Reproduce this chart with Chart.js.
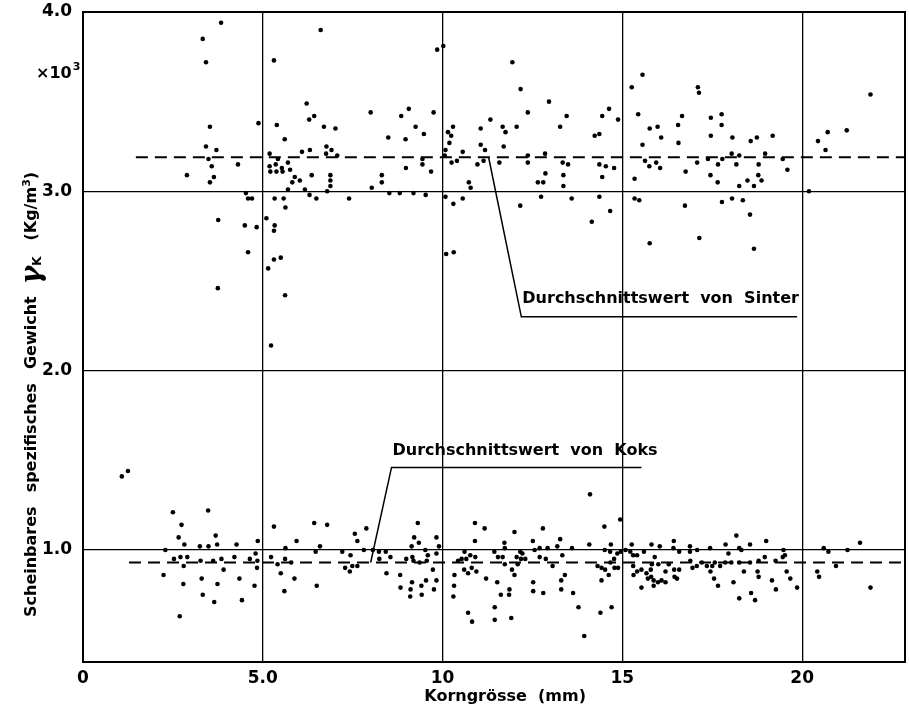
<!DOCTYPE html>
<html>
<head>
<meta charset="utf-8">
<script src="https://cdn.jsdelivr.net/npm/chart.js@4"></script>
<style>
  html, body { margin: 0; padding: 0; background: #fff; }
  canvas { display: block; }
</style>
</head>
<body>
<canvas id="chart" width="909" height="714"></canvas>
<script>
/* --------------- Data ----------------------------------------- */
const sinterX = [
  3.84,3.33,3.42,3.53,3.42,3.71,3.49,3.58,4.31,2.89,3.64,3.53,4.88,6.61,5.31,5.39,5.61,6.22,6.29,6.43,
  6.70,7.02,6.77,6.91,6.76,7.07,6.31,6.09,5.19,5.42,5.19,5.36,5.53,5.70,5.21,5.38,5.55,5.76,5.89,6.03,
  5.82,6.36,6.88,6.88,6.88,5.70,6.17,6.79,4.53,4.70,5.33,5.58,6.49,7.40,4.59,3.76,4.50,4.83,4.59,3.75,
  5.10,5.33,5.31,5.31,5.50,5.15,5.62,5.23,5.63,6.30,
  9.85,10.02,11.94,12.17,12.96,15.26,8.00,8.85,9.06,9.75,9.25,8.49,8.97,9.48,10.29,10.15,10.24,10.19,10.08,10.06,
  10.56,11.06,11.33,11.67,11.75,11.06,11.18,11.70,12.06,12.37,13.45,13.27,14.44,14.63,14.23,14.36,14.88,15.44,12.37,12.85,
  10.25,10.40,10.97,11.14,11.58,12.37,13.34,13.49,14.36,14.54,14.77,9.44,9.44,8.98,9.68,8.31,8.31,8.03,8.52,8.81,
  9.19,9.53,10.73,10.78,12.86,12.65,12.80,13.36,13.36,14.44,15.34,10.08,10.56,12.74,13.59,14.36,15.34,
  10.30,10.10,10.31,12.16,14.66,14.15,15.47,15.76,16.74,17.14,17.77,18.05,18.35,18.55,18.66,20.19,16.76,17.08,17.45,17.66,
  17.65,18.25,18.48,18.66,18.78,18.87,18.17,18.79,19.59,15.75,16.05,15.94,15.63,15.56,16.56,18.04,18.25,18.57,18.97,19.46,
  15.56,17.10,17.13,16.66,17.46,17.76,15.76,15.98,16.55,17.76,16.08,17.46,18.06,18.74,19.18,17.38,17.78,21.90,21.24,20.71,
  20.44,20.65
];
const sinterY = [
  3.94,3.85,3.72,3.36,3.25,3.23,3.18,3.14,3.15,3.09,3.08,3.05,3.38,3.90,3.73,3.37,3.29,3.49,3.40,3.42,
  3.36,3.35,3.25,3.23,3.21,3.20,3.23,3.22,3.21,3.18,3.14,3.15,3.13,3.16,3.11,3.11,3.11,3.12,3.08,3.06,
  3.05,3.09,3.09,3.06,3.03,3.01,3.01,3.00,2.99,2.96,2.96,2.96,2.96,2.96,2.96,2.84,2.81,2.80,2.66,2.46,
  2.85,2.81,2.78,2.62,2.63,2.57,2.42,2.14,2.91,2.98,
  3.79,3.81,3.72,3.57,3.50,3.58,3.44,3.42,3.46,3.44,3.36,3.30,3.29,3.32,3.36,3.33,3.31,3.27,3.23,3.20,
  3.22,3.35,3.40,3.36,3.33,3.26,3.23,3.25,3.36,3.44,3.42,3.36,3.42,3.46,3.31,3.32,3.40,3.43,3.20,3.21,
  3.16,3.17,3.15,3.17,3.16,3.16,3.16,3.15,3.15,3.14,3.13,3.18,3.15,3.13,3.11,3.09,3.05,3.02,2.99,2.99,
  2.99,2.98,3.05,3.02,3.10,3.05,3.05,3.09,3.03,3.08,3.07,2.97,2.96,2.97,2.96,2.97,2.96,
  2.93,2.65,2.66,2.92,2.89,2.83,2.95,2.71,2.92,2.74,2.94,2.96,2.95,2.87,2.68,3.00,3.11,3.16,3.09,3.15,
  3.05,3.03,3.06,3.03,3.09,3.06,3.15,3.15,3.12,3.14,3.13,3.16,3.17,3.26,3.27,3.21,3.20,3.28,3.21,3.18,
  3.65,3.58,3.55,3.42,3.41,3.43,3.35,3.36,3.37,3.37,3.30,3.31,3.30,3.30,3.31,3.18,3.18,3.54,3.34,3.33,
  3.28,3.23
];
const koksX = [
  1.08,1.25,2.50,3.48,2.74,2.66,2.82,3.25,3.49,3.69,3.73,4.27,4.86,5.31,5.63,5.94,6.43,6.79,6.59,6.47,
  7.56,7.63,7.21,7.44,2.29,2.53,2.71,2.90,2.80,3.27,3.62,3.85,4.21,4.64,4.80,4.85,4.84,5.23,5.41,5.62,
  5.79,2.24,3.91,3.30,3.74,4.35,2.79,4.77,3.33,3.65,4.42,2.69,5.50,5.88,5.60,6.50,7.29,7.42,7.49,7.63,
  7.88,7.81,8.06,8.23,8.42,8.24,8.55,8.44,8.82,8.83,9.31,9.21,9.34,9.14,9.52,9.59,9.83,9.90,9.83,8.99,
  9.16,9.19,9.36,9.56,9.73,9.15,9.41,9.54,9.83,9.76,9.11,9.10,9.42,10.90,11.17,10.90,12.00,12.79,12.51,13.27,
  13.19,11.72,11.73,10.61,10.77,10.91,10.66,10.43,10.53,10.60,10.71,10.81,10.94,10.33,10.32,10.30,11.21,11.44,11.54,11.67,
  11.73,11.52,11.62,11.86,11.85,11.93,12.00,12.16,12.22,12.06,12.18,12.30,12.09,11.45,11.45,11.91,10.71,10.82,12.56,12.70,
  12.92,12.70,12.87,12.52,12.52,12.80,13.06,13.33,13.40,13.30,13.30,13.63,13.60,13.78,13.94,14.08,14.10,14.39,14.70,14.50,
  14.68,14.51,14.66,14.86,14.96,14.94,14.31,14.42,14.52,14.67,14.77,14.78,14.88,14.62,14.42,
  15.09,15.26,15.22,15.30,15.41,15.30,15.31,15.41,15.53,15.60,15.53,15.67,15.71,15.80,15.79,15.82,15.87,15.87,15.81,16.04,
  15.90,16.00,15.99,16.09,16.20,16.20,16.43,16.42,16.58,16.29,16.44,16.45,16.52,16.58,16.88,16.88,17.08,16.89,16.95,17.07,
  17.21,17.35,17.44,17.50,17.45,17.55,17.66,17.57,17.72,17.87,17.95,17.86,18.03,18.09,18.17,18.25,18.31,18.25,18.38,18.25,
  18.55,18.55,18.58,18.69,18.76,18.79,18.79,18.96,19.00,19.16,19.27,19.48,19.52,19.46,19.57,19.67,19.86,19.26,20.42,20.47,
  20.60,20.73,20.94,21.26,21.61,21.90
];
const koksY = [
  1.41,1.44,1.21,1.22,1.14,1.07,1.03,1.02,1.02,1.08,1.03,1.03,1.05,1.13,1.01,1.05,1.15,1.14,1.02,0.99,
  1.09,1.05,0.99,0.97,1.00,0.95,0.96,0.96,0.91,0.94,0.94,0.95,0.96,0.95,0.98,0.94,0.90,0.96,0.92,0.95,
  0.93,0.86,0.89,0.84,0.81,0.84,0.81,0.80,0.75,0.71,0.72,0.63,0.87,0.84,0.77,0.80,0.90,0.88,0.91,0.91,
  1.12,1.00,1.00,0.99,0.99,0.95,0.96,0.87,0.86,0.79,1.15,1.07,1.04,1.02,1.00,0.97,1.07,1.02,0.98,0.95,
  0.96,0.94,0.93,0.94,0.89,0.82,0.80,0.83,0.83,0.78,0.78,0.74,0.75,1.15,1.12,1.05,1.10,1.12,1.05,1.06,
  1.02,1.04,1.01,0.99,0.97,0.96,0.95,0.94,0.95,0.89,0.87,0.90,0.88,0.86,0.80,0.74,0.84,0.99,0.96,0.96,
  0.92,0.82,0.75,0.78,0.75,0.89,0.86,0.99,0.98,0.96,0.95,0.95,0.92,0.68,0.61,0.62,0.65,0.60,1.00,1.01,
  1.01,0.96,0.95,0.82,0.77,0.76,0.91,0.97,0.86,0.83,0.78,0.76,1.01,0.68,0.52,1.03,1.31,0.65,0.68,1.13,
  1.03,1.00,0.99,0.98,0.99,1.17,0.91,0.90,0.89,0.93,0.95,0.90,0.90,0.86,0.83,
  1.00,1.03,0.99,0.97,0.97,0.91,0.86,0.88,0.79,0.99,0.89,0.87,0.84,0.85,0.89,0.92,0.83,0.80,1.03,1.02,
  0.96,0.92,0.82,0.83,0.82,0.88,1.05,1.01,0.99,0.92,0.89,0.85,0.84,0.89,1.02,0.99,1.00,0.94,0.90,0.91,
  0.93,0.91,1.01,0.91,0.88,0.84,0.80,0.93,0.91,1.03,0.98,0.93,0.93,0.82,1.08,1.01,1.00,0.93,0.88,0.73,
  1.03,0.93,0.76,0.72,0.88,0.85,0.94,0.96,1.05,0.83,0.78,1.00,0.97,0.96,0.88,0.84,0.79,0.94,0.88,0.85,
  1.01,0.99,0.91,1.00,1.04,0.79
];
/* --------------- Averages (dashed lines) --------------------- */
const sinterMean = 3.19;
const koksMean = 0.93;
const sinterMeanFrom = 1.47;
const koksMeanFrom = 1.28;
/* --------------- Axes --------------------- */
const xMin = 0, xMax = 22.86;
const yMin = 0.375, yMax = 4.0;
const xTicks = [0, 5, 10, 15, 20];
const xTickLabels = ["0", "5.0", "10", "15", "20"];
const yTicks = [1, 2, 3, 4];
const yTickLabels = ["1.0", "2.0", "3.0", "4.0"];

const toPoints = (xs, ys) => xs.map((x, i) => ({ x: x, y: ys[i] }));

/* --------------- Callouts --------------------- */
const notes = [
  { text: "Durchschnittswert  von  Sinter", from: [11.28, sinterMean], elbow: [12.19, 2.30], end: 19.86, textY: 2.40 },
  { text: "Durchschnittswert  von  Koks", from: [8.0, koksMean], elbow: [8.58, 1.46], end: 15.53, textY: 1.55 },
];

const FONT = "'DejaVu Sans'";

const decorations = {
  id: "decorations",
  afterDatasetsDraw(chart) {
    const ctx = chart.ctx;
    const xs = chart.scales.x, ys = chart.scales.y;
    const a = chart.chartArea;
    ctx.save();
    // frame
    ctx.strokeStyle = "#000";
    ctx.lineWidth = 2;
    ctx.strokeRect(a.left, a.top, a.right - a.left, a.bottom - a.top);
    // callouts
    ctx.lineWidth = 1.5;
    ctx.fillStyle = "#000";
    ctx.font = "bold 16px " + FONT;
    ctx.textBaseline = "middle";
    notes.forEach((n) => {
      const ex = xs.getPixelForValue(n.elbow[0]);
      const ey = ys.getPixelForValue(n.elbow[1]);
      ctx.beginPath();
      ctx.moveTo(xs.getPixelForValue(n.from[0]), ys.getPixelForValue(n.from[1]));
      ctx.lineTo(ex, ey);
      ctx.lineTo(xs.getPixelForValue(n.end), ey);
      ctx.stroke();
      ctx.fillText(n.text, ex + 1, ys.getPixelForValue(n.textY));
    });
    ctx.restore();
  },
  afterDraw(chart) {
    // y axis title, written sideways, with the x10^3 factor on top
    const ctx = chart.ctx;
    ctx.save();
    ctx.fillStyle = "#000";
    ctx.textBaseline = "middle";
    ctx.translate(32, 617);
    ctx.rotate(-Math.PI / 2);
    const base = "bold 16px " + FONT;
    const runs = [
      { t: "Scheinbares", f: base, dy: 0, gap: 14 },
      { t: "spezifisches", f: base, dy: 0, gap: 14 },
      { t: "Gewicht", f: base, dy: 0, gap: 12 },
      { t: "\u03B3", f: "italic bold 28px 'DejaVu Serif'", dy: 1, gap: 0 },
      { t: "K", f: "bold 12px " + FONT, dy: 6, gap: 16 },
      { t: "(Kg/m", f: base, dy: 0, gap: 0 },
      { t: "3", f: "bold 11px " + FONT, dy: -5, gap: 0 },
      { t: ")", f: base, dy: 0, gap: 0 },
    ];
    let pos = 0;
    runs.forEach((r) => {
      ctx.font = r.f;
      ctx.fillText(r.t, pos, r.dy);
      pos += ctx.measureText(r.t).width + r.gap;
    });
    ctx.restore();
    ctx.save();
    ctx.fillStyle = "#000";
    ctx.textBaseline = "middle";
    ctx.font = base;
    ctx.fillText("\u00D710", 36, 74);
    const w = ctx.measureText("\u00D710").width;
    ctx.font = "bold 11px " + FONT;
    ctx.fillText("3", 36 + w + 1, 67);
    ctx.restore();
  },
};

new Chart(document.getElementById("chart"), {
  type: "scatter",
  plugins: [decorations],
  data: {
    datasets: [
      {
        label: "Sinter",
        data: toPoints(sinterX, sinterY),
        backgroundColor: "#000",
        borderWidth: 0,
        pointRadius: 2.3,
      },
      {
        label: "Koks",
        data: toPoints(koksX, koksY),
        backgroundColor: "#000",
        borderWidth: 0,
        pointRadius: 2.3,
      },
      {
        label: "Durchschnitt Sinter",
        data: [{ x: sinterMeanFrom, y: sinterMean }, { x: xMax, y: sinterMean }],
        showLine: true,
        borderColor: "#000",
        borderWidth: 2,
        borderDash: [12, 7],
        pointRadius: 0,
      },
      {
        label: "Durchschnitt Koks",
        data: [{ x: koksMeanFrom, y: koksMean }, { x: xMax, y: koksMean }],
        showLine: true,
        borderColor: "#000",
        borderWidth: 2,
        borderDash: [12, 7],
        pointRadius: 0,
      },
    ],
  },
  options: {
    responsive: false,
    devicePixelRatio: 1,
    animation: false,
    layout: { padding: { top: 12, right: 3, left: 0, bottom: 0 } },
    plugins: { legend: { display: false }, tooltip: { enabled: false } },
    scales: {
      x: {
        type: "linear",
        min: xMin,
        max: xMax,
        afterBuildTicks: (s) => { s.ticks = xTicks.map((v) => ({ value: v })); },
        afterFit: (s) => { s.height = 52; s.paddingLeft = 0; s.paddingRight = 0; },
        grid: { color: "#000", lineWidth: 1.3, drawTicks: false },
        border: { color: "#000", width: 2 },
        ticks: {
          padding: 6,
          color: "#000",
          font: { family: FONT, size: 17, weight: "bold" },
          callback: (v) => xTickLabels[xTicks.indexOf(v)],
          maxRotation: 0,
        },
        title: {
          display: true,
          text: "    Korngrösse  (mm)",
          color: "#000",
          font: { family: FONT, size: 16, weight: "bold" },
          padding: { top: 0, bottom: 8 },
        },
      },
      y: {
        min: yMin,
        max: yMax,
        afterBuildTicks: (s) => { s.ticks = yTicks.map((v) => ({ value: v })); },
        afterFit: (s) => { s.width = 83; s.paddingTop = 0; s.paddingBottom = 0; },
        grid: { color: "#000", lineWidth: 1.3, drawTicks: false },
        border: { color: "#000", width: 2 },
        ticks: {
          padding: 11,
          color: "#000",
          font: { family: FONT, size: 17, weight: "bold" },
          callback: (v) => yTickLabels[yTicks.indexOf(v)],
        },
      },
    },
  },
});
</script>
</body>
</html>
